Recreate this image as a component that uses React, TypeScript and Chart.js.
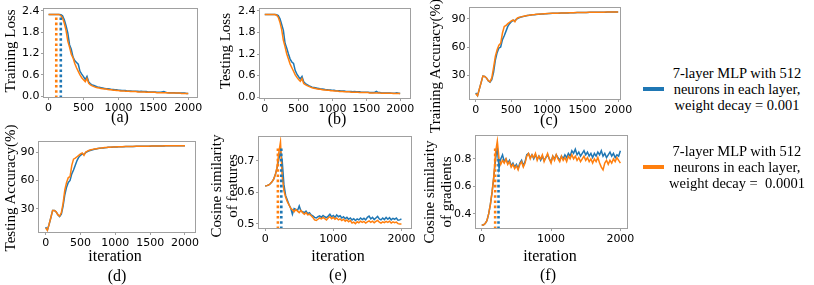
import React, { useEffect, useRef } from 'react';
import { Chart, registerables } from 'chart.js';
Chart.register(...registerables);

// ---------------- DATA ----------------
const ITER = [
  0, 25, 50, 75, 100, 125, 150, 175, 200, 225,
  250, 275, 300, 325, 350, 375, 400, 425, 450, 475,
  500, 525, 550, 575, 600, 625, 650, 675, 700, 725,
  750, 775, 800, 825, 850, 875, 900, 925, 950, 975,
  1000, 1025, 1050, 1075, 1100, 1125, 1150, 1175, 1200, 1225,
  1250, 1275, 1300, 1325, 1350, 1375, 1400, 1425, 1450, 1475,
  1500, 1525, 1550, 1575, 1600, 1625, 1650, 1675, 1700, 1725,
  1750, 1775, 1800, 1825, 1850, 1875, 1900, 1925, 1950, 1975,
  2000,
];

// weight decay = 0.001 (blue) / 0.0001 (orange)
const TRAIN_LOSS_WD3 = [
  2.30, 2.30, 2.30, 2.30, 2.30, 2.30, 2.30, 2.29, 2.26, 2.15,
  1.98, 1.78, 1.45, 1.32, 1.10, 1.00, 0.95, 0.90, 0.70, 0.62,
  0.55, 0.47, 0.56, 0.40, 0.35, 0.32, 0.30, 0.28, 0.26, 0.25,
  0.24, 0.23, 0.22, 0.21, 0.21, 0.20, 0.19, 0.19, 0.18, 0.18,
  0.17, 0.17, 0.16, 0.16, 0.16, 0.15, 0.15, 0.15, 0.14, 0.14,
  0.14, 0.14, 0.13, 0.14, 0.13, 0.13, 0.13, 0.12, 0.12, 0.12,
  0.12, 0.12, 0.11, 0.11, 0.11, 0.12, 0.13, 0.11, 0.10, 0.10,
  0.10, 0.10, 0.10, 0.09, 0.09, 0.09, 0.09, 0.09, 0.09, 0.08,
  0.08,
];
const TRAIN_LOSS_WD4 = [
  2.30, 2.30, 2.30, 2.30, 2.30, 2.30, 2.30, 2.27, 2.20, 2.05,
  1.85, 1.55, 1.38, 1.18, 1.08, 0.92, 0.80, 0.70, 0.60, 0.52,
  0.46, 0.41, 0.50, 0.36, 0.32, 0.29, 0.27, 0.25, 0.24, 0.23,
  0.22, 0.21, 0.20, 0.20, 0.19, 0.18, 0.18, 0.17, 0.17, 0.16,
  0.16, 0.15, 0.15, 0.15, 0.14, 0.14, 0.14, 0.13, 0.13, 0.13,
  0.13, 0.12, 0.12, 0.12, 0.12, 0.12, 0.11, 0.11, 0.11, 0.11,
  0.11, 0.11, 0.10, 0.10, 0.10, 0.10, 0.10, 0.10, 0.10, 0.09,
  0.09, 0.09, 0.09, 0.09, 0.09, 0.09, 0.08, 0.08, 0.08, 0.08,
  0.08,
];
const TEST_LOSS_WD3 = [
  2.30, 2.30, 2.30, 2.30, 2.30, 2.30, 2.30, 2.29, 2.27, 2.18,
  2.02, 1.86, 1.50, 1.36, 1.20, 1.06, 0.98, 0.94, 0.74, 0.64,
  0.57, 0.51, 0.58, 0.43, 0.38, 0.35, 0.32, 0.30, 0.28, 0.27,
  0.26, 0.25, 0.24, 0.23, 0.23, 0.22, 0.21, 0.21, 0.20, 0.20,
  0.19, 0.19, 0.18, 0.18, 0.18, 0.17, 0.17, 0.17, 0.16, 0.16,
  0.16, 0.16, 0.15, 0.16, 0.15, 0.15, 0.15, 0.14, 0.14, 0.14,
  0.14, 0.14, 0.13, 0.13, 0.13, 0.14, 0.16, 0.13, 0.13, 0.12,
  0.12, 0.12, 0.12, 0.12, 0.12, 0.11, 0.11, 0.11, 0.12, 0.11,
  0.10,
];
const TEST_LOSS_WD4 = [
  2.30, 2.30, 2.30, 2.30, 2.30, 2.30, 2.30, 2.28, 2.22, 2.08,
  1.88, 1.58, 1.40, 1.20, 1.06, 0.92, 0.82, 0.72, 0.62, 0.55,
  0.49, 0.44, 0.52, 0.38, 0.35, 0.32, 0.30, 0.28, 0.26, 0.25,
  0.24, 0.23, 0.22, 0.22, 0.21, 0.20, 0.20, 0.19, 0.19, 0.18,
  0.18, 0.17, 0.17, 0.17, 0.16, 0.16, 0.16, 0.15, 0.15, 0.15,
  0.15, 0.14, 0.14, 0.14, 0.14, 0.14, 0.13, 0.13, 0.13, 0.13,
  0.13, 0.13, 0.12, 0.12, 0.12, 0.12, 0.12, 0.12, 0.12, 0.11,
  0.11, 0.11, 0.11, 0.11, 0.11, 0.11, 0.10, 0.10, 0.10, 0.10,
  0.10,
];
const TRAIN_ACC_WD3 = [
  11, 8, 15, 22, 29, 28.5, 27, 24, 22.5, 25,
  33, 46, 54, 59, 60, 68, 72, 77, 82, 85,
  87, 88.5, 88, 90, 91, 91.8, 92.3, 92.8, 93.2, 93.6,
  93.9, 94.2, 94.4, 94.6, 94.9, 95.0, 95.1, 95.3, 95.4, 95.5,
  95.7, 95.8, 95.9, 96.0, 96.0, 96.1, 96.2, 96.2, 96.3, 96.3,
  96.4, 96.5, 96.5, 96.6, 96.6, 96.7, 96.7, 96.8, 96.8, 96.9,
  96.9, 97.0, 97.0, 97.0, 97.1, 97.1, 97.1, 97.2, 97.2, 97.2,
  97.3, 97.3, 97.3, 97.3, 97.4, 97.4, 97.4, 97.4, 97.5, 97.5,
  97.5,
];
const TRAIN_ACC_WD4 = [
  10, 8, 15, 22, 29, 28.5, 27, 24, 23, 27,
  38, 50, 57, 62, 64, 75, 82, 83, 85, 86.5,
  88, 89, 87, 90.5, 91.5, 92, 92.5, 93, 93.5, 93.8,
  94, 94.3, 94.5, 94.7, 95, 95, 95.2, 95.4, 95.5, 95.6,
  95.8, 95.9, 96.0, 96.0, 96.1, 96.2, 96.2, 96.3, 96.3, 96.4,
  96.5, 96.5, 96.6, 96.6, 96.7, 96.7, 96.8, 96.8, 96.9, 96.9,
  97.0, 97.0, 97.0, 97.1, 97.1, 97.1, 97.2, 97.2, 97.2, 97.3,
  97.3, 97.3, 97.3, 97.4, 97.4, 97.4, 97.4, 97.5, 97.5, 97.5,
  97.5,
];
const TEST_ACC_WD3 = [
  11, 8, 14, 21, 28.5, 28.5, 27, 24, 22, 24.5,
  33, 45, 53, 58, 60, 67, 71, 76, 81, 84.5,
  86.5, 88, 87.5, 89.5, 90.5, 91.3, 91.9, 92.4, 92.9, 93.2,
  93.6, 93.9, 94.1, 94.3, 94.6, 94.7, 94.9, 95.0, 95.1, 95.2,
  95.3, 95.4, 95.5, 95.5, 95.6, 95.6, 95.7, 95.7, 95.8, 95.8,
  95.9, 95.9, 96.0, 96.0, 96.0, 96.1, 96.1, 96.1, 96.2, 96.2,
  96.2, 96.3, 96.3, 96.3, 96.3, 96.4, 96.4, 96.4, 96.4, 96.5,
  96.5, 96.5, 96.5, 96.5, 96.6, 96.6, 96.6, 96.6, 96.6, 96.7,
  96.7,
];
const TEST_ACC_WD4 = [
  10, 7.5, 14, 21, 28.5, 28.5, 27, 24, 22.5, 26,
  36, 50, 58, 63, 64, 76, 82.5, 83.5, 85, 86.5,
  88, 89, 86.5, 90, 91, 91.8, 92.3, 92.8, 93.2, 93.5,
  93.8, 94.1, 94.3, 94.5, 94.7, 94.8, 95.0, 95.1, 95.2, 95.3,
  95.4, 95.5, 95.5, 95.6, 95.6, 95.7, 95.7, 95.8, 95.8, 95.9,
  95.9, 96.0, 96.0, 96.0, 96.1, 96.1, 96.1, 96.2, 96.2, 96.2,
  96.3, 96.3, 96.3, 96.3, 96.4, 96.4, 96.4, 96.4, 96.5, 96.5,
  96.5, 96.5, 96.5, 96.6, 96.6, 96.6, 96.6, 96.6, 96.7, 96.7,
  96.7,
];
const FEAT_COS_WD3 = [
  0.620, 0.621, 0.623, 0.627, 0.633, 0.642, 0.656, 0.678, 0.705, 0.730,
  0.700, 0.625, 0.590, 0.575, 0.560, 0.550, 0.530, 0.548, 0.545, 0.542,
  0.556, 0.540, 0.538, 0.535, 0.540, 0.532, 0.535, 0.528, 0.525, 0.520,
  0.518, 0.522, 0.525, 0.520, 0.526, 0.522, 0.519, 0.524, 0.530, 0.522,
  0.526, 0.520, 0.528, 0.522, 0.525, 0.518, 0.522, 0.516, 0.520, 0.514,
  0.518, 0.512, 0.516, 0.510, 0.515, 0.512, 0.518, 0.513, 0.517, 0.512,
  0.520, 0.524, 0.515, 0.520, 0.513, 0.518, 0.523, 0.515, 0.512, 0.518,
  0.513, 0.520, 0.514, 0.519, 0.512, 0.517, 0.514, 0.518, 0.511, 0.512,
  0.515,
];
const FEAT_COS_WD4 = [
  0.620, 0.621, 0.623, 0.627, 0.633, 0.642, 0.656, 0.680, 0.725, 0.760,
  0.650, 0.605, 0.585, 0.570, 0.560, 0.548, 0.545, 0.538, 0.545, 0.540,
  0.535, 0.542, 0.535, 0.530, 0.535, 0.528, 0.530, 0.525, 0.520, 0.512,
  0.510, 0.514, 0.518, 0.515, 0.520, 0.516, 0.512, 0.518, 0.522, 0.516,
  0.520, 0.514, 0.518, 0.512, 0.515, 0.510, 0.514, 0.508, 0.512, 0.506,
  0.510, 0.502, 0.505, 0.500, 0.506, 0.503, 0.508, 0.504, 0.507, 0.502,
  0.506, 0.509, 0.504, 0.508, 0.503, 0.507, 0.510, 0.505, 0.502, 0.506,
  0.503, 0.507, 0.504, 0.508, 0.502, 0.506, 0.503, 0.505, 0.500, 0.499,
  0.499,
];
const GRAD_COS_WD3 = [
  0.32, 0.32, 0.33, 0.35, 0.40, 0.47, 0.56, 0.67, 0.80, 0.88,
  0.73, 0.80, 0.83, 0.78, 0.80, 0.77, 0.79, 0.75, 0.77, 0.74,
  0.76, 0.73, 0.77, 0.79, 0.75, 0.78, 0.83, 0.84, 0.81, 0.83,
  0.80, 0.83, 0.80, 0.82, 0.79, 0.82, 0.79, 0.81, 0.83, 0.80,
  0.78, 0.82, 0.80, 0.83, 0.81, 0.79, 0.82, 0.80, 0.83, 0.81,
  0.84, 0.82, 0.86, 0.84, 0.87, 0.83, 0.85, 0.82, 0.84, 0.86,
  0.83, 0.85, 0.82, 0.84, 0.81, 0.84, 0.82, 0.85, 0.83, 0.86,
  0.82, 0.84, 0.81, 0.83, 0.85, 0.82, 0.84, 0.81, 0.83, 0.82,
  0.86,
];
const GRAD_COS_WD4 = [
  0.32, 0.32, 0.33, 0.35, 0.40, 0.47, 0.56, 0.68, 0.85, 0.93,
  0.80, 0.76, 0.79, 0.77, 0.80, 0.76, 0.78, 0.74, 0.76, 0.73,
  0.75, 0.72, 0.76, 0.78, 0.74, 0.77, 0.82, 0.84, 0.80, 0.83,
  0.81, 0.84, 0.79, 0.82, 0.80, 0.83, 0.78, 0.81, 0.84, 0.80,
  0.77, 0.82, 0.79, 0.83, 0.80, 0.78, 0.82, 0.79, 0.81, 0.78,
  0.82, 0.80, 0.83, 0.80, 0.82, 0.79, 0.81, 0.78, 0.80, 0.82,
  0.79, 0.81, 0.78, 0.80, 0.77, 0.80, 0.78, 0.81, 0.77, 0.74,
  0.72, 0.77, 0.79, 0.76, 0.79, 0.77, 0.80, 0.78, 0.81, 0.79,
  0.77,
];

// dotted marker lines: iteration and top value, [wd 0.001, wd 0.0001]
const MARK_A_ITER = [175, 110];
const MARK_A_TOP = [2.30, 2.30];
const MARK_E_ITER = [237, 187];
const MARK_E_TOP = [0.74, 0.74];
const MARK_F_ITER = [242, 194];
const MARK_F_TOP = [0.80, 0.88];

const X_TICKS_FINE = [0, 500, 1000, 1500, 2000];
const X_TICKS_COARSE = [0, 1000, 2000];
const LOSS_TICKS = [0, 0.6, 1.2, 1.8, 2.4];
const ACC_TICKS = [30, 60, 90];
const FEAT_TICKS = [0.5, 0.6, 0.7];
const GRAD_TICKS = [0.4, 0.6, 0.8];

const LEGEND_LINES_WD3 = ['7-layer MLP with 512', 'neurons in each layer,', 'weight decay = 0.001'];
const LEGEND_LINES_WD4 = ['7-layer MLP with 512', 'neurons in each layer,', 'weight decay =\u00a0 0.0001'];

// ---------------- STYLE ----------------
const BLUE = '#1f77b4';
const ORANGE = '#ff7f0e';
const FRAME = '#a0a0a0';
const SERIF = "'Liberation Serif', 'Times New Roman', serif";
const SANS = "'DejaVu Sans', sans-serif";

const YW = 44;
const XH = 24;
const PT = 12;
const PR = 24;

type Spec = {
  box: { l: number; t: number; r: number; b: number };
  x: [number, number];
  y: [number, number];
  xTicks: number[];
  yTicks: number[];
  dec: number;
  blue: number[];
  orange: number[];
  markIter?: number[];
  markTop?: number[];
};

const framePlugin = {
  id: 'frame',
  afterDatasetsDraw(chart: any) {
    const { ctx, chartArea: a } = chart;
    ctx.save();
    ctx.strokeStyle = FRAME;
    ctx.lineWidth = 1;
    ctx.strokeRect(Math.round(a.left) + 0.5, Math.round(a.top) + 0.5, Math.round(a.right - a.left) - 1, Math.round(a.bottom - a.top) - 1);
    ctx.restore();
  },
};

function Panel({ spec }: { spec: Spec }) {
  const ref = useRef<HTMLCanvasElement>(null);
  const w = spec.box.r - spec.box.l + YW + PR;
  const h = spec.box.b - spec.box.t + PT + XH;
  useEffect(() => {
    const datasets: any[] = [];
    if (spec.markIter && spec.markTop) {
      const cols = [BLUE, ORANGE];
      spec.markIter.forEach((m, i) => {
        datasets.push({
          data: [{ x: m, y: spec.y[0] }, { x: m, y: spec.markTop![i] }],
          borderColor: cols[i],
          borderWidth: 2.6,
          borderDash: [2.6, 2.6],
          pointRadius: 0,
          order: -i - 1,
        });
      });
    }
    datasets.push({
      data: ITER.map((x, i) => ({ x, y: spec.orange[i] })),
      borderColor: ORANGE,
      borderWidth: 1.5,
      pointRadius: 0,
      order: 1,
    });
    datasets.push({
      data: ITER.map((x, i) => ({ x, y: spec.blue[i] })),
      borderColor: BLUE,
      borderWidth: 1.5,
      pointRadius: 0,
      order: 2,
    });
    const tickFont = { family: SANS, size: 11 };
    const chart = new Chart(ref.current!, {
      type: 'line',
      data: { datasets },
      options: {
        responsive: false,
        maintainAspectRatio: false,
        animation: false,
        layout: { padding: { top: PT, right: PR, left: 0, bottom: 0 } },
        plugins: { legend: { display: false }, tooltip: { enabled: false } },
        elements: { line: { tension: 0 } },
        scales: {
          x: {
            type: 'linear',
            min: spec.x[0],
            max: spec.x[1],
            afterBuildTicks: (s: any) => { s.ticks = spec.xTicks.map((v) => ({ value: v })); },
            afterFit: (s: any) => { s.height = XH; },
            grid: { display: true, drawOnChartArea: false, drawTicks: true, tickLength: 2, color: FRAME },
            border: { display: false },
            ticks: { font: tickFont, color: '#000', padding: 1.5, maxRotation: 0, autoSkip: false, callback: (v: any) => String(v) },
          },
          y: {
            type: 'linear',
            min: spec.y[0],
            max: spec.y[1],
            afterBuildTicks: (s: any) => { s.ticks = spec.yTicks.map((v) => ({ value: v })); },
            afterFit: (s: any) => { s.width = YW; },
            grid: { display: true, drawOnChartArea: false, drawTicks: true, tickLength: 2, color: FRAME },
            border: { display: false },
            ticks: { font: tickFont, color: '#000', padding: 1.5, autoSkip: false, callback: (v: any) => Number(v).toFixed(spec.dec) },
          },
        },
      } as any,
      plugins: [framePlugin],
    });
    return () => chart.destroy();
  }, []);
  return (
    <canvas
      ref={ref}
      width={w}
      height={h}
      style={{ position: 'absolute', left: spec.box.l - YW, top: spec.box.t - PT, width: w, height: h }}
    />
  );
}

function Txt({ x, y, text, rot = false, size = 16 }: { x: number; y: number; text: string; rot?: boolean; size?: number }) {
  return (
    <div
      style={{
        position: 'absolute',
        left: x,
        top: y,
        transform: `translate(-50%, -50%)${rot ? ' rotate(-90deg)' : ''}`,
        font: `${size}px ${SERIF}`,
        lineHeight: 1,
        whiteSpace: 'nowrap',
        color: '#000',
      }}
    >
      {text}
    </div>
  );
}

const SPECS: Spec[] = [
  { box: { l: 43, t: 8, r: 198, b: 98 }, x: [-80, 2140], y: [-0.05, 2.48], xTicks: X_TICKS_FINE, yTicks: LOSS_TICKS, dec: 1, blue: TRAIN_LOSS_WD3, orange: TRAIN_LOSS_WD4, markIter: MARK_A_ITER, markTop: MARK_A_TOP },
  { box: { l: 259, t: 8, r: 411, b: 99 }, x: [-85, 2160], y: [-0.05, 2.48], xTicks: X_TICKS_FINE, yTicks: LOSS_TICKS, dec: 1, blue: TEST_LOSS_WD3, orange: TEST_LOSS_WD4 },
  { box: { l: 469, t: 7, r: 621, b: 100 }, x: [-95, 2040], y: [3.4, 102.8], xTicks: X_TICKS_FINE, yTicks: ACC_TICKS, dec: 0, blue: TRAIN_ACC_WD3, orange: TRAIN_ACC_WD4 },
  { box: { l: 38, t: 141, r: 196, b: 233 }, x: [-110, 2158], y: [4.7, 101.6], xTicks: X_TICKS_FINE, yTicks: ACC_TICKS, dec: 0, blue: TEST_ACC_WD3, orange: TEST_ACC_WD4 },
  { box: { l: 258, t: 136, r: 412, b: 229 }, x: [-105, 2155], y: [0.483, 0.779], xTicks: X_TICKS_COARSE, yTicks: FEAT_TICKS, dec: 1, blue: FEAT_COS_WD3, orange: FEAT_COS_WD4, markIter: MARK_E_ITER, markTop: MARK_E_TOP },
  { box: { l: 475, t: 135, r: 628, b: 229 }, x: [-97, 2110], y: [0.29, 0.974], xTicks: X_TICKS_COARSE, yTicks: GRAD_TICKS, dec: 1, blue: GRAD_COS_WD3, orange: GRAD_COS_WD4, markIter: MARK_F_ITER, markTop: MARK_F_TOP },
];

function LegendBlock({ y, color, lines }: { y: number; color: string; lines: string[] }) {
  return (
    <>
      <div style={{ position: 'absolute', left: 643, top: y - 2, width: 21, height: 4, background: color }} />
      <div
        style={{
          position: 'absolute',
          left: 737,
          top: y,
          transform: 'translate(-50%, -50%)',
          font: `14.5px ${SERIF}`,
          lineHeight: '16px',
          textAlign: 'center',
          whiteSpace: 'nowrap',
          color: '#000',
        }}
      >
        {lines.map((l, i) => (
          <div key={i}>{l}</div>
        ))}
      </div>
    </>
  );
}

export default function App() {
  return (
    <div style={{ position: 'absolute', left: 0, top: 0, width: 814, height: 285, background: '#fff', overflow: 'hidden' }}>
      {SPECS.map((s, i) => (
        <Panel key={i} spec={s} />
      ))}
      <Txt x={10} y={51} text="Training Loss" rot size={15} />
      <Txt x={120} y={117} text="(a)" />
      <Txt x={225} y={51} text="Testing Loss" rot size={15} />
      <Txt x={337} y={119} text="(b)" />
      <Txt x={435} y={66} text="Training Accuracy(%)" rot size={15} />
      <Txt x={549} y={120} text="(c)" />
      <Txt x={10} y={188} text="Testing Accuracy(%)" rot size={15} />
      <Txt x={115} y={256} text="iteration" />
      <Txt x={117} y={276} text="(d)" />
      <Txt x={216} y={186} text="Cosine similarity" rot size={15} />
      <Txt x={232} y={186} text="of features" rot size={15} />
      <Txt x={338} y={256} text="iteration" />
      <Txt x={338} y={275} text="(e)" />
      <Txt x={429} y={192} text="Cosine similarity" rot size={15} />
      <Txt x={446} y={192} text="of gradients" rot size={15} />
      <Txt x={550} y={256} text="iteration" />
      <Txt x={548} y={275} text="(f)" />
      <LegendBlock y={89} color={BLUE} lines={LEGEND_LINES_WD3} />
      <LegendBlock y={167} color={ORANGE} lines={LEGEND_LINES_WD4} />
    </div>
  );
}
